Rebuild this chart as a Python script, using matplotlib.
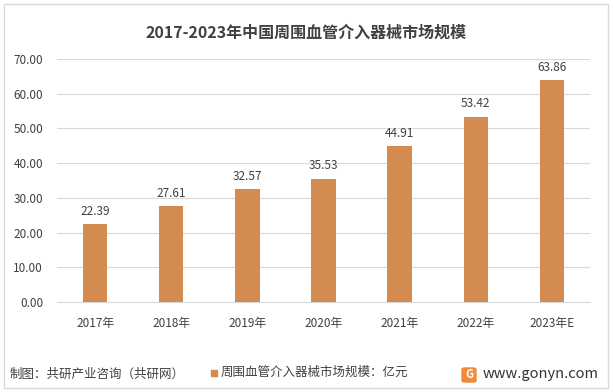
import matplotlib.pyplot as plt
from matplotlib.patches import Rectangle, FancyBboxPatch

plt.rcParams['font.family'] = ['Noto Sans CJK SC', 'DejaVu Sans']

years = ['2017年', '2018年', '2019年', '2020年', '2021年', '2022年', '2023年E']
market = [22.39, 27.61, 32.57, 35.53, 44.91, 53.42, 63.86]
yticks = [0, 10, 20, 30, 40, 50, 60, 70]

bar_color = '#D48B4F'
text_color = '#404040'

fig = plt.figure(figsize=(6.13, 3.92), dpi=100)
W, H = 613, 392

# outer frame
fig.patches.append(Rectangle((4 / W, 4 / H), 604 / W, 384 / H, transform=fig.transFigure,
                             fill=False, edgecolor='#D9D9D9', linewidth=1))

ax = fig.add_axes([57 / W, (H - 302) / H, (590 - 57) / W, (302 - 59) / H])
x = range(len(years))
ax.bar(x, market, width=0.32, color=bar_color, zorder=3)
for i, v in zip(x, market):
    ax.text(i, v + 1.8, f'{v:.2f}', ha='center', va='bottom', fontsize=8.5, color=text_color)

ax.set_xlim(-0.5, len(years) - 0.5)
ax.set_ylim(0, 70)
ax.set_yticks(yticks)
ax.set_yticklabels([f'{t:.2f}' for t in yticks], fontsize=8.5, color=text_color)
ax.set_xticks(list(x))
ax.set_xticklabels(years, fontsize=8.5, color=text_color)
ax.tick_params(axis='both', length=0)
ax.tick_params(axis='x', pad=11)
ax.tick_params(axis='y', pad=10)
ax.grid(axis='y', color='#D9D9D9', linewidth=0.8, zorder=0)
for s in ['top', 'right', 'left']:
    ax.spines[s].set_visible(False)
ax.spines['bottom'].set_color('#D9D9D9')

fig.text(0.5, 1 - 33 / H, '2017-2023年中国周围血管介入器械市场规模', ha='center', va='center',
         fontsize=11.5, fontweight='bold', color=text_color)

# legend
fig.patches.append(Rectangle((211 / W, 1 - 376 / H), 6 / W, 6 / H, transform=fig.transFigure,
                             color=bar_color))
fig.text(221 / W, 1 - 372 / H, '周围血管介入器械市场规模：亿元', ha='left', va='center',
         fontsize=9, color=text_color)

# footer
fig.text(10 / W, 1 - 374 / H, '制图：共研产业咨询（共研网）', ha='left', va='center',
         fontsize=9, color=text_color)
fig.patches.append(FancyBboxPatch((462 / W, 1 - 382 / H), 14 / W, 14 / H,
                                  boxstyle='round,pad=0,rounding_size=0.004',
                                  transform=fig.transFigure, color='#F08A3C'))
fig.text(469 / W, 1 - 375 / H, 'G', ha='center', va='center', fontsize=8,
         fontweight='bold', color='white')
fig.text(483 / W, 1 - 374 / H, 'www.gonyn.com', ha='left', va='center',
         fontsize=10.5, color='#333333')

fig.savefig('out.png', dpi=100)
